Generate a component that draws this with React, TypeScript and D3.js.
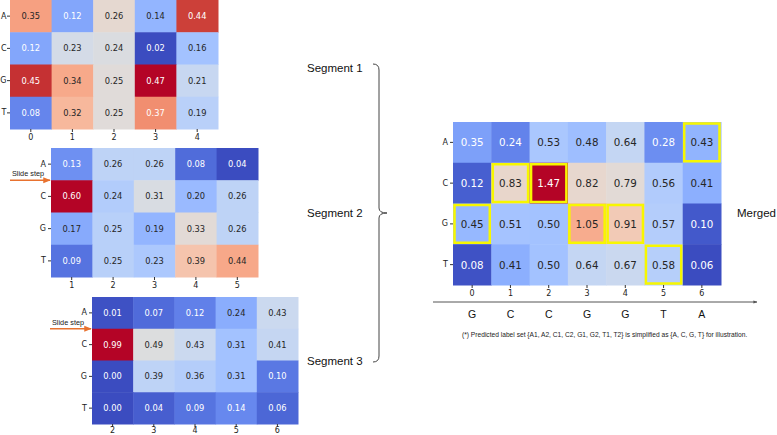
import React, { useEffect, useRef } from 'react';
import * as d3 from 'd3';

const bases = ['A', 'C', 'G', 'T'];

const seg1Cols = ['0', '1', '2', '3', '4'];
const seg1Values = [
  [0.35, 0.12, 0.26, 0.14, 0.44],
  [0.12, 0.23, 0.24, 0.02, 0.16],
  [0.45, 0.34, 0.25, 0.47, 0.21],
  [0.08, 0.32, 0.25, 0.37, 0.19],
];

const seg2Cols = ['1', '2', '3', '4', '5'];
const seg2Values = [
  [0.13, 0.26, 0.26, 0.08, 0.04],
  [0.60, 0.24, 0.31, 0.20, 0.26],
  [0.17, 0.25, 0.19, 0.33, 0.26],
  [0.09, 0.25, 0.23, 0.39, 0.44],
];

const seg3Cols = ['2', '3', '4', '5', '6'];
const seg3Values = [
  [0.01, 0.07, 0.12, 0.24, 0.43],
  [0.99, 0.49, 0.43, 0.31, 0.41],
  [0.00, 0.39, 0.36, 0.31, 0.10],
  [0.00, 0.04, 0.09, 0.14, 0.06],
];

const mergedCols = ['0', '1', '2', '3', '4', '5', '6'];
const mergedValues = [
  [0.35, 0.24, 0.53, 0.48, 0.64, 0.28, 0.43],
  [0.12, 0.83, 1.47, 0.82, 0.79, 0.56, 0.41],
  [0.45, 0.51, 0.50, 1.05, 0.91, 0.57, 0.10],
  [0.08, 0.41, 0.50, 0.64, 0.67, 0.58, 0.06],
];

const sequence = ['G', 'C', 'C', 'G', 'G', 'T', 'A'];
// [row, col] of the picked cells in the merged map
const picked = [[0, 6], [1, 1], [1, 2], [2, 0], [2, 3], [2, 4], [3, 5]];

const segmentLabels = ['Segment 1', 'Segment 2', 'Segment 3'];
const footnote = '(*) Predicted label set {A1, A2, C1, C2, G1, G2, T1, T2} is simplified as {A, C, G, T} for illustration.';

// cool-to-warm (Moreland) diverging map, 33 samples
const coolwarm = [
  [59, 76, 192], [68, 90, 204], [77, 104, 215], [87, 117, 225], [98, 130, 234],
  [108, 142, 241], [119, 154, 247], [130, 165, 251], [141, 176, 254], [152, 185, 255],
  [163, 194, 255], [174, 201, 253], [184, 208, 249], [194, 213, 244], [204, 217, 238],
  [213, 219, 230], [221, 221, 221], [229, 216, 209], [236, 211, 197], [241, 204, 185],
  [245, 196, 173], [247, 187, 160], [247, 177, 148], [247, 166, 135], [244, 154, 123],
  [241, 141, 111], [236, 127, 99], [229, 112, 88], [222, 96, 77], [213, 80, 66],
  [203, 62, 56], [192, 40, 47], [180, 4, 38],
].map(([r, g, b]) => d3.rgb(r, g, b).formatHex());

const luminance = (c: string) => {
  const rgb = d3.rgb(c);
  const lin = (v: number) => {
    const s = v / 255;
    return s <= 0.03928 ? s / 12.92 : Math.pow((s + 0.055) / 1.055, 2.4);
  };
  return 0.2126 * lin(rgb.r) + 0.7152 * lin(rgb.g) + 0.0722 * lin(rgb.b);
};

const tickFont = '"DejaVu Sans", sans-serif';
const labelFont = '"Liberation Sans", Arial, sans-serif';

function drawHeatmap(
  svg: d3.Selection<SVGSVGElement, unknown, null, undefined>,
  values: number[][],
  cols: string[],
  x0: number, y0: number, w: number, h: number,
  fontSize: number,
  xPad = 2,
  yPad = 2,
) {
  const g = svg.append('g');
  const x = d3.scaleBand().domain(cols).range([x0, x0 + w]);
  const y = d3.scaleBand().domain(bases).range([y0, y0 + h]);
  const flat = values.flat();
  const vmin = d3.min(flat) as number;
  const vmax = d3.max(flat) as number;
  const color = d3.scaleLinear<string>()
    .domain(coolwarm.map((_, i) => vmin + (vmax - vmin) * i / (coolwarm.length - 1)))
    .range(coolwarm)
    .interpolate(d3.interpolateRgb);

  const cells = bases.flatMap((b, r) => cols.map((c, ci) => ({ b, c, v: values[r][ci] })));

  g.selectAll('rect.cell')
    .data(cells)
    .enter().append('rect')
    .attr('class', 'cell')
    .attr('x', d => x(d.c) as number)
    .attr('y', d => y(d.b) as number)
    .attr('width', x.bandwidth() + 0.5)
    .attr('height', y.bandwidth() + 0.5)
    .attr('fill', d => color(d.v));

  g.selectAll('text.val')
    .data(cells)
    .enter().append('text')
    .attr('class', 'val')
    .attr('x', d => (x(d.c) as number) + x.bandwidth() / 2)
    .attr('y', d => (y(d.b) as number) + y.bandwidth() / 2)
    .attr('text-anchor', 'middle')
    .attr('dominant-baseline', 'central')
    .attr('font-family', tickFont)
    .attr('font-size', fontSize)
    .attr('fill', d => (luminance(color(d.v)) > 0.408 ? '#262626' : '#ffffff'))
    .text(d => d.v.toFixed(2));

  const ax = g.append('g')
    .attr('transform', `translate(0,${y0 + h})`)
    .call(d3.axisBottom(x).tickSize(3).tickPadding(xPad));
  const ay = g.append('g')
    .attr('transform', `translate(${x0},0)`)
    .call(d3.axisLeft(y).tickSize(3).tickPadding(yPad));
  [ax, ay].forEach(a => {
    a.select('.domain').remove();
    a.selectAll('line').attr('stroke', '#333');
    a.selectAll('text').attr('font-family', tickFont).attr('font-size', 8).attr('fill', '#222');
  });

  return { x, y };
}

const App: React.FC = () => {
  const ref = useRef<SVGSVGElement | null>(null);

  useEffect(() => {
    if (!ref.current) return;
    const svg = d3.select(ref.current);
    svg.selectAll('*').remove();

    const defs = svg.append('defs');
    defs.append('marker').attr('id', 'orangeHead')
      .attr('viewBox', '0 0 10 10').attr('refX', 9).attr('refY', 5)
      .attr('markerWidth', 5).attr('markerHeight', 5).attr('orient', 'auto')
      .append('path').attr('d', 'M0,1 L10,5 L0,9 Z').attr('fill', '#e8722f');
    defs.append('marker').attr('id', 'grayHead')
      .attr('viewBox', '0 0 10 10').attr('refX', 9).attr('refY', 5)
      .attr('markerWidth', 4).attr('markerHeight', 4).attr('orient', 'auto')
      .append('path').attr('d', 'M0,1 L10,5 L0,9 Z').attr('fill', '#555');

    drawHeatmap(svg, seg1Values, seg1Cols, 10, 0, 208, 129, 8.3, 2, 0.5);
    const h2 = drawHeatmap(svg, seg2Values, seg2Cols, 51, 148, 207, 129, 8.3);
    const h3 = drawHeatmap(svg, seg3Values, seg3Cols, 92, 297, 206, 127, 8.3, 0);
    const m = drawHeatmap(svg, mergedValues, mergedCols, 453, 122, 268, 163, 10.3);

    // slide step arrows, pointing at the boundary between rows A and C
    const slides = [
      { x1: 10, x2: 50, y: (h2.y('C') as number), tx: 12 },
      { x1: 50, x2: 91, y: (h3.y('C') as number), tx: 52 },
    ];
    slides.forEach(s => {
      svg.append('line')
        .attr('x1', s.x1).attr('x2', s.x2).attr('y1', s.y).attr('y2', s.y)
        .attr('stroke', '#e8722f').attr('stroke-width', 1.5)
        .attr('marker-end', 'url(#orangeHead)');
      svg.append('text')
        .attr('x', s.tx).attr('y', s.y - 4)
        .attr('font-family', labelFont).attr('font-size', 7.3).attr('fill', '#222')
        .text('Slide step');
    });

    // segment labels and brace
    const segY = [68, 213, 361];
    svg.selectAll('text.seg')
      .data(segmentLabels)
      .enter().append('text')
      .attr('class', 'seg')
      .attr('x', 307)
      .attr('y', (_, i) => segY[i])
      .attr('dominant-baseline', 'central')
      .attr('font-family', labelFont).attr('font-size', 11.5).attr('fill', '#111')
      .text(d => d);

    svg.append('path')
      .attr('d', 'M373,64 Q379,64 379,70 L379,208 Q379,213 387,213 Q379,213 379,218 L379,356 Q379,362 373,362')
      .attr('fill', 'none').attr('stroke', '#444').attr('stroke-width', 1);

    svg.append('text')
      .attr('x', 737).attr('y', 213)
      .attr('dominant-baseline', 'central')
      .attr('font-family', labelFont).attr('font-size', 11.5).attr('fill', '#111')
      .text('Merged');

    // picked cells
    svg.selectAll('rect.pick')
      .data(picked)
      .enter().append('rect')
      .attr('class', 'pick')
      .attr('x', d => (m.x(mergedCols[d[1]]) as number) + 1.5)
      .attr('y', d => (m.y(bases[d[0]]) as number) + 1.5)
      .attr('width', m.x.bandwidth() - 3)
      .attr('height', m.y.bandwidth() - 3)
      .attr('fill', 'none').attr('stroke', '#f7f700').attr('stroke-width', 2.5);

    // sequence axis
    svg.append('line')
      .attr('x1', 433).attr('x2', 757).attr('y1', 302).attr('y2', 302)
      .attr('stroke', '#555').attr('stroke-width', 1)
      .attr('marker-end', 'url(#grayHead)');

    svg.selectAll('text.seq')
      .data(sequence)
      .enter().append('text')
      .attr('class', 'seq')
      .attr('x', (_, i) => (m.x(mergedCols[i]) as number) + m.x.bandwidth() / 2)
      .attr('y', 314)
      .attr('text-anchor', 'middle')
      .attr('dominant-baseline', 'central')
      .attr('font-family', labelFont).attr('font-size', 10.5).attr('fill', '#111')
      .text(d => d);

    svg.append('text')
      .attr('x', 462).attr('y', 334)
      .attr('dominant-baseline', 'central')
      .attr('font-family', labelFont).attr('font-size', 6.65).attr('fill', '#222')
      .text(footnote);
  }, []);

  return (
    <svg ref={ref} width={777} height={435}
      style={{ position: 'absolute', left: 0, top: 0, background: '#fff' }} />
  );
};

export default App;
